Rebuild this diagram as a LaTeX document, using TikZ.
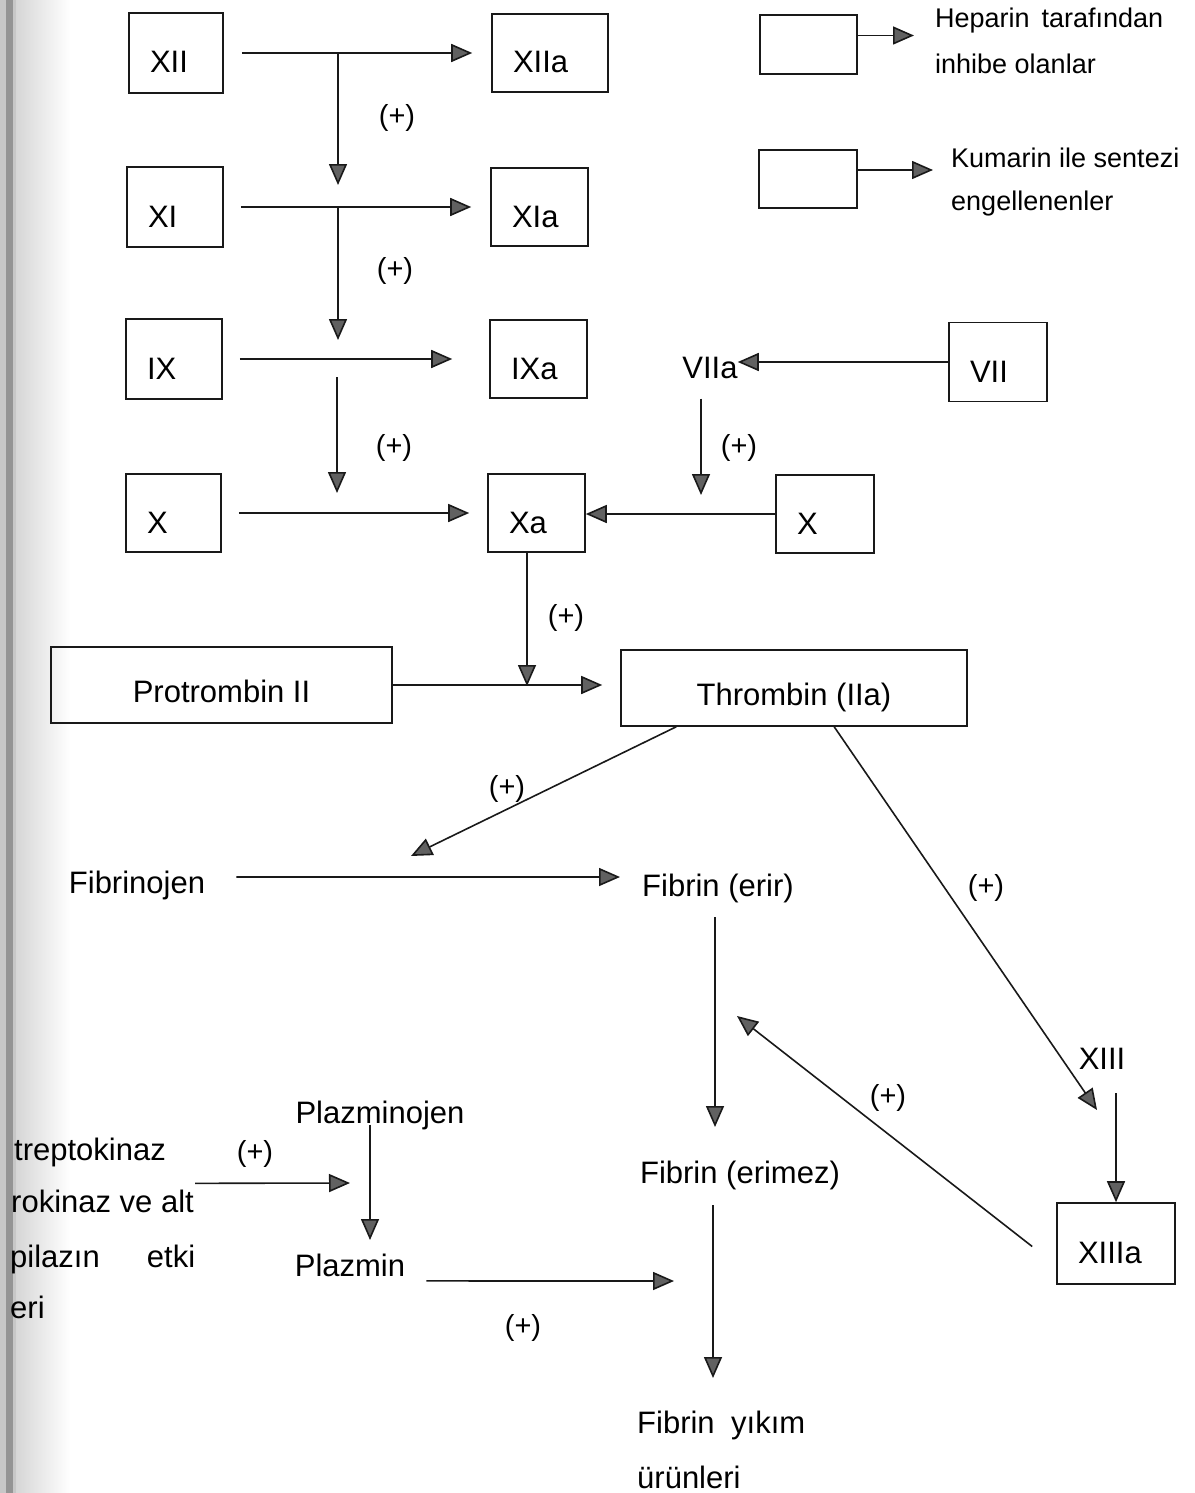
\documentclass[tikz,border=0pt]{standalone}
\usepackage{fontspec}
\setmainfont{Liberation Sans}
\usetikzlibrary{arrows.meta}
\newcommand\diagfont{\fontsize{31}{37}\selectfont}
\newcommand\legfont{\fontsize{27}{32}\selectfont}
\newcommand\plusfont{\fontsize{29}{34}\selectfont}
\begin{document}
\begin{tikzpicture}[x=1pt,y=-1pt,
  ink/.style={draw=black!90, line width=1.6pt},
  arr/.style={ink, -{Triangle[length=21pt,width=18pt,fill=black!62]}},
  fbox/.style={ink, rectangle, align=left, inner xsep=21pt, inner ysep=0pt,
               text height=40pt, text depth=0pt, font=\diagfont},
  cbox/.style={ink, rectangle, align=center, inner sep=0pt,
               text height=34pt, text depth=0pt, font=\diagfont},
  lgbox/.style={ink, rectangle, inner sep=0pt},
  lbl/.style={font=\diagfont, anchor=base, inner sep=0pt},
  lbw/.style={font=\diagfont, anchor=base west, inner sep=0pt},
  lgt/.style={font=\legfont, anchor=base west, inner sep=0pt},
  plus/.style={font=\plusfont, anchor=base, inner sep=0pt},
]
\useasboundingbox (0,0) rectangle (1194,1493);
\fill[white] (0,0) rectangle (1194,1493);

% scanned page edge on the left
\shade[left color=black!16, right color=white] (16,0) rectangle (70,1493);
\fill[black!22] (0,0) rectangle (16,1493);
\fill[black!42] (6,0) rectangle (13,1493);

% ---------- legend ----------
\node[lgbox, minimum width=97pt, minimum height=59pt] (hep) at (808.5,44.5) {};
\coordinate (hepend) at (914,35.5);
\draw[arr] ([yshift=9pt]hep.east) -- (hepend);
\node[lgt] (heptxt) at (935,28) {\makebox[228pt][s]{Heparin tarafından}};
\node[lgt] (heptxt2) at (935,74) {inhibe olanlar};

\node[lgbox, minimum width=98pt, minimum height=58pt] (kum) at (808,179) {};
\coordinate (kumend) at (933,170);
\draw[arr] ([yshift=9pt]kum.east) -- (kumend);
\node[lgt] (kumtxt) at (951,167) {Kumarin ile sentezi};
\node[lgt] (kumtxt2) at (951,210) {engellenenler};

% ---------- intrinsic pathway ----------
\node[fbox, text width=52pt, minimum height=80pt] (xii)  at (176,53)    {XII};
\node[fbox, text width=74pt, minimum height=78pt] (xiia) at (550,53)    {XIIa};
\node[fbox, text width=54pt, minimum height=80pt] (xi)   at (175,207)   {XI};
\node[fbox, text width=55pt, minimum height=78pt] (xia)  at (539.5,207) {XIa};
\node[fbox, text width=54pt, minimum height=80pt] (ix)   at (174,359)   {IX};
\node[fbox, text width=55pt, minimum height=78pt] (ixa)  at (538.5,359) {IXa};
\node[fbox, text width=53pt, minimum height=78pt] (xf)   at (173.5,513) {X};
\node[fbox, text width=55pt, minimum height=78pt] (xa)   at (536.5,513) {Xa};

\draw[arr, shorten <=18pt, shorten >=19pt] (xii.east) -- (xiia.west);
\draw[arr, shorten <=17pt, shorten >=19pt] (xi.east) -- (xia.west);
\draw[arr, shorten <=17pt, shorten >=37pt] (ix.east) -- (ixa.west);
\draw[arr, shorten <=17pt, shorten >=18pt] (xf.east) -- (xa.west);

\coordinate (j1) at (338,53);  \coordinate (j1e) at (338,185);
\coordinate (j2) at (338,207); \coordinate (j2e) at (338,340);
\coordinate (j3) at (337,377); \coordinate (j3e) at (337,493);
\draw[arr] (j1) -- (j1e);
\draw[arr] (j2) -- (j2e);
\draw[arr] (j3) -- (j3e);
\node[plus] (p1) at (397,125) {(+)};
\node[plus] (p2) at (395,278) {(+)};
\node[plus] (p3) at (394,455) {(+)};

% ---------- extrinsic pathway ----------
\node[fbox, text width=56pt, minimum height=79pt] (vii) at (998,362) {VII};
\node[lbl] (viia) at (710,378) {VIIa};
\node[fbox, text width=56pt, minimum height=78pt] (xr) at (825,514) {X};
\draw[arr] (vii.west) -- (vii.west -| viia.east);
\coordinate (viiadn) at (701,495);
\draw[arr] ([xshift=-9pt,yshift=-20pt]viia.south) -- (viiadn);
\node[plus] (p4) at (739,455) {(+)};
\draw[arr] (xr.west) -- (xr.west -| xa.east);

% ---------- common pathway ----------
\node[cbox, minimum width=341pt, minimum height=76pt] (pro) at (221.5,685) {Protrombin II};
\node[cbox, minimum width=346pt, minimum height=76pt] (thr) at (794,688) {Thrombin (IIa)};
\coordinate (xadn) at (527,686);
\draw[arr] ([xshift=-9.5pt]xa.south) -- (xadn);
\node[plus] (p5) at (566,625) {(+)};
\draw[arr, shorten >=18pt] (pro.east) -- (pro.east -| thr.west);

\node[lbl] (fbj) at (137,893) {Fibrinojen};
\node[lbl] (fer) at (718,896) {Fibrin (erir)};
\coordinate (fbjin) at (411,856);
\draw[arr] ([xshift=56pt]thr.south west) -- (fbjin);
\node[plus] (p6) at (507,796) {(+)};
\coordinate (ferend) at (620,877);
\draw[arr] ([xshift=31pt,yshift=8pt]fbj.east) -- (ferend);

\node[lbl] (xiii) at (1102,1069) {XIII};
\coordinate (xiiiin) at (1097,1110);
\draw[arr] ([xshift=214pt]thr.south west) -- (xiiiin);
\node[plus] (p7) at (986,895) {(+)};
\node[fbox, text width=76pt, minimum height=81pt] (xiiia) at (1116,1243.5) {XIIIa};
\draw[arr] ([xshift=14pt,yshift=-24pt]xiii.south) -- (xiiia.north);
\coordinate (ferin) at (737,1016);
\draw[arr] ([xshift=-24pt,yshift=-3pt]xiiia.west) -- (ferin);
\node[plus] (p8) at (888,1105) {(+)};

\node[lbl] (ferz) at (740,1183) {Fibrin (erimez)};
\coordinate (ferzin) at (715,1127);
\draw[arr] ([xshift=-3pt,yshift=-14.5pt]fer.south) -- (ferzin);
\node[lbw] (fyk) at (637,1433) {\makebox[168pt][s]{Fibrin yıkım}};
\node[lbw] (fyk2) at (637,1488) {ürünleri};
\coordinate (fykin) at (713,1378);
\draw[arr] ([xshift=-27pt,yshift=-15.5pt]ferz.south) -- (fykin);

% ---------- fibrinolysis ----------
\node[lbw] (trep) at (14,1160) {treptokinaz};
\node[lbw] (rok)  at (11,1212) {rokinaz ve alt};
\node[lbw] (pil)  at (10,1267) {\makebox[185pt][s]{pilazın etki}};
\node[lbw] (eri)  at (10,1318) {eri};
\node[lbl] (plz) at (380,1123) {Plazminojen};
\node[lbl] (plm) at (350,1276) {Plazmin};
\coordinate (plzin) at (350,1183);
\draw[arr] ([xshift=1pt,yshift=6pt]rok.north east) -- (plzin);
\node[plus] (p9) at (255,1161) {(+)};
\coordinate (plmin) at (370,1240);
\draw[arr] ([xshift=-10pt,yshift=5pt]plz.south) -- (plmin);
\coordinate (plmend) at (674,1281);
\draw[arr] ([xshift=21pt,yshift=-16pt]plm.east) -- (plmend);
\node[plus] (p10) at (523,1335) {(+)};
\end{tikzpicture}
\end{document}
